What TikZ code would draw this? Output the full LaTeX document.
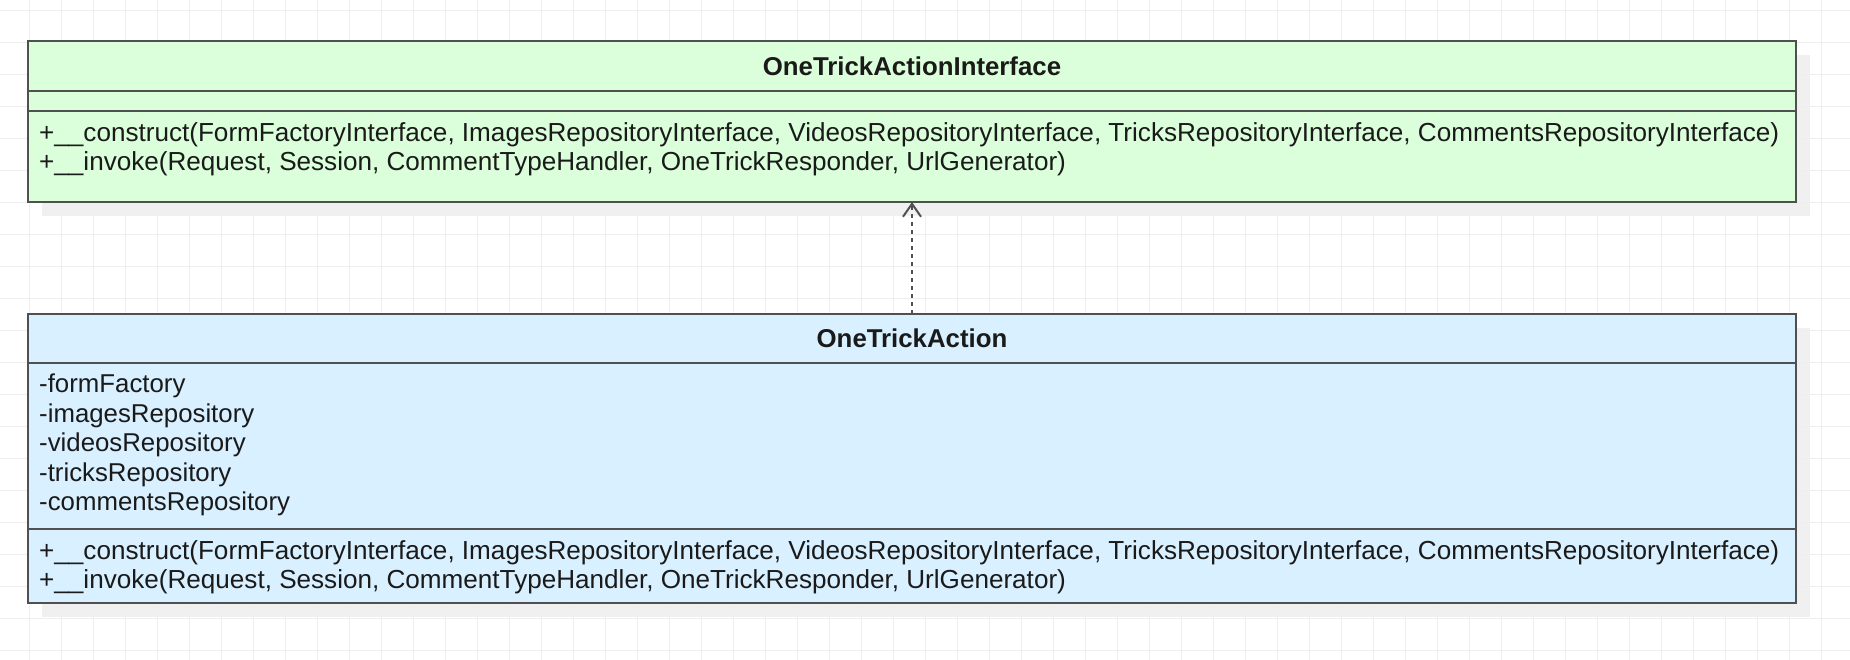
\documentclass[tikz,border=0pt]{standalone}
\usepackage{fontspec}
\setmainfont{Liberation Sans}
\usepackage{tikz}
\usetikzlibrary{positioning,arrows.meta,backgrounds}

\definecolor{ifacegreen}{HTML}{DAFFDA}
\definecolor{implblue}{HTML}{D8F0FF}
\definecolor{umlline}{HTML}{505050}
\definecolor{gridgray}{HTML}{EEEEEE}
\definecolor{shadowgray}{HTML}{F0F0F0}
\definecolor{umltext}{HTML}{1A1A1A}

\tikzset{
  part/.style = {draw=umlline, line width=2pt, rectangle, minimum width=1768pt, inner sep=0pt, outer sep=0pt},
  head/.style = {part, text=umltext, font=\fontsize{25.8}{29.5}\selectfont\bfseries},
  members/.style = {anchor=north west, inner sep=0pt, align=left, text=umltext, font=\fontsize{25.8}{29.5}\selectfont},
  methods/.style = {members, font=\fontsize{26.1}{29.5}\selectfont},
  realize/.style = {draw=umlline, line width=2pt, dash pattern=on 4pt off 4pt, -{Straight Barb[length=13pt,width=18pt,line width=2pt]}}
}

\begin{document}
\begin{tikzpicture}[x=1pt,y=1pt,node distance=0pt]
        \useasboundingbox (0,0) rectangle (1850,660);
        \clip (0,0) rectangle (1850,660);
        % background grid
        \begin{scope}[shift={(29,9)}]
          \draw[gridgray, line width=1pt, step=32] (-32,-32) grid (1830,660);
        \end{scope}

        % interface
        \node[head, fill=ifacegreen, minimum height=50pt] (ifacehead) at (912,594) {OneTrickActionInterface};
        \node[part, fill=ifacegreen, minimum height=20pt] (ifaceattr) [below=of ifacehead] {};
        \node[part, fill=ifacegreen, minimum height=91pt] (ifaceops) [below=of ifaceattr] {};
        \node[methods] (ifaceopstext) at ([shift={(11pt,-11pt)}]ifaceops.north west)
          {+\_\_construct(FormFactoryInterface, ImagesRepositoryInterface, VideosRepositoryInterface, TricksRepositoryInterface, CommentsRepositoryInterface)\\
           +\_\_invoke(Request, Session, CommentTypeHandler, OneTrickResponder, UrlGenerator)};

        % class
        \node[head, fill=implblue, minimum height=49pt] (implhead) [below=112pt of ifaceops] {OneTrickAction};
        \node[part, fill=implblue, minimum height=166pt] (implattr) [below=of implhead] {};
        \node[part, fill=implblue, minimum height=74pt] (implops) [below=of implattr] {};
        \node[members] (implattrtext) at ([shift={(11pt,-11pt)}]implattr.north west)
          {-formFactory\\ -imagesRepository\\ -videosRepository\\ -tricksRepository\\ -commentsRepository};
        \node[methods] (implopstext) at ([shift={(11pt,-11pt)}]implops.north west)
          {+\_\_construct(FormFactoryInterface, ImagesRepositoryInterface, VideosRepositoryInterface, TricksRepositoryInterface, CommentsRepositoryInterface)\\
           +\_\_invoke(Request, Session, CommentTypeHandler, OneTrickResponder, UrlGenerator)};

        % shadows
        \begin{scope}[on background layer]
          \fill[shadowgray] ([shift={(14pt,-14pt)}]ifacehead.north west) rectangle ([shift={(14pt,-14pt)}]ifaceops.south east);
          \fill[shadowgray] ([shift={(14pt,-14pt)}]implhead.north west) rectangle ([shift={(14pt,-14pt)}]implops.south east);
        \end{scope}

        \draw[realize] (implhead.north) -- (ifaceops.south);
\end{tikzpicture}
\end{document}
